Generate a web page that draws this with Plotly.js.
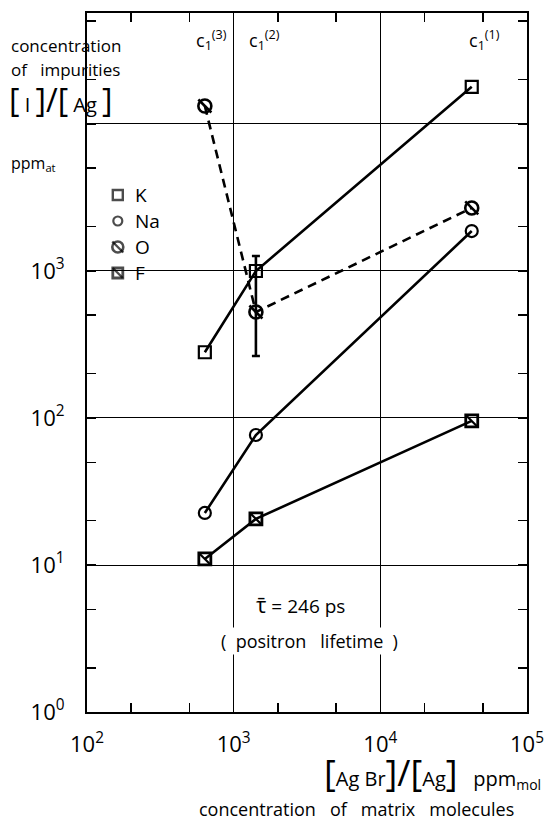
<!DOCTYPE html>
<html>
<head>
<meta charset="utf-8">
<script src="https://cdn.plot.ly/plotly-3.0.1.min.js"></script>
<style>html,body{margin:0;padding:0;background:#fff;}#chart{width:552px;height:829px;}</style>
</head>
<body>
<div id="chart"></div>
<script>
// ---- data ----
const categoryLabels = ['c<sub>1</sub><sup>(3)</sup>', 'c<sub>1</sub><sup>(2)</sup>', 'c<sub>1</sub><sup>(1)</sup>'];
const matrixConc = [636, 1418, 42000];          // [AgBr]/[Ag] ppm_mol
const K  = [280, 1000, 17900];
const Na = [22.6, 76.6, 1870];
const O  = [13250, 526, 2685];
const F  = [11.0, 20.6, 95.5];
const oErrorUpper = 1265;   // error bar at c1(2)
const oErrorLower = 264;
const xTickVals = [100, 1000, 10000, 100000];
const xTickText = ['10<sup>2</sup>', '10<sup>3</sup>', '10<sup>4</sup>', '10<sup>5</sup>'];
const yTickVals = [1, 10, 100, 1000, 10000];
const yTickText = ['10<sup>0</sup>', '10<sup>1</sup>', '10<sup>2</sup>', '10<sup>3</sup>', ''];
const xMinor = [200, 500, 2000, 5000, 20000, 50000];
const yMinor = [2, 5, 20, 50, 200, 500, 2000, 5000, 20000, 50000];
const legendNames = ['K', 'Na', 'O', 'F'];

// ---- layout geometry ----
const W = 552, H = 829;
const M = {l: 87, r: 25, t: 13, b: 117};
const PW = W - M.l - M.r, PH = H - M.t - M.b;
const px = x => (x - M.l) / PW;
const py = y => (H - M.b - y) / PH;
const FONT = 'Open Sans, Liberation Sans, sans-serif';

const lineW = 2.6;
const mk = (symbol, size, extra) => Object.assign({symbol: symbol, size: size, color: 'black', line: {color: 'black', width: 2.2}}, extra || {});

const traces = [
  {x: matrixConc, y: K, mode: 'lines+markers', line: {color: 'black', width: lineW},
   marker: mk('square-open', 12), cliponaxis: false},
  {x: matrixConc, y: Na, mode: 'lines+markers', line: {color: 'black', width: lineW},
   marker: mk('circle-open', 12), cliponaxis: false},
  {x: matrixConc, y: O, mode: 'lines+markers', line: {color: 'black', width: lineW, dash: '9px,6px'},
   marker: mk('circle-open', 13, {line: {color: 'black', width: 2.6}}), cliponaxis: false},
  {x: matrixConc, y: O, mode: 'markers', marker: mk('line-nw-open', 13, {line: {color: 'black', width: 2.6}}), cliponaxis: false},
  {x: matrixConc, y: F, mode: 'lines+markers', line: {color: 'black', width: lineW},
   marker: mk('square-open', 12, {line: {color: 'black', width: 2.8}}), cliponaxis: false},
  {x: matrixConc, y: F, mode: 'markers', marker: mk('line-nw-open', 12, {line: {color: 'black', width: 2.2}}), cliponaxis: false},
  {x: [matrixConc[1]], y: [O[1]], mode: 'markers', marker: {size: 1, opacity: 0},
   error_y: {type: 'data', symmetric: false, array: [oErrorUpper - O[1]], arrayminus: [O[1] - oErrorLower],
             color: 'black', thickness: 2.6, width: 4}},
  // legend symbols (drawn on a hidden overlay axis)
  {x: [0.07, 0.07, 0.07, 0.07], y: [py(195), py(221), py(247), py(273)], xaxis: 'x2', yaxis: 'y2',
   mode: 'markers',
   marker: {symbol: ['square-open', 'circle-open', 'circle-open', 'square-open'], size: [10, 9, 11, 10], color: 'black',
            line: {color: 'black', width: [2.4, 2.2, 2.6, 2.8]}}, cliponaxis: false},
  {x: [0.07, 0.07], y: [py(247), py(273)], xaxis: 'x2', yaxis: 'y2', mode: 'markers',
   marker: {symbol: 'line-nw-open', size: [11, 10], color: 'black', line: {color: 'black', width: 2.4}}, cliponaxis: false}
];

function ann(text, x, y, o) {
  return Object.assign({xref: 'paper', yref: 'paper', x: px(x), y: py(y), text: text, showarrow: false,
    xanchor: 'left', yanchor: 'middle', font: {family: FONT, size: 17, color: 'black'}}, o || {});
}
const br = (s, sz) => '<span style="font-size:' + (sz || 32) + 'px">' + s + '</span>';

const annotations = [
  ann('concentration', 9, 45),
  ann('of&nbsp;&nbsp;&nbsp;impurities', 9, 69),
  ann(br('[') + ' I ' + br(']') + br('/') + br('[') + ' Ag ' + br(']'), 7, 99, {font: {family: FONT, size: 20, color: 'black'}}),
  ann('ppm<sub>at</sub>', 9, 163, {font: {family: FONT, size: 16, color: 'black'}}),
  ann(categoryLabels[0], 211, 40, {xanchor: 'center', bgcolor: 'white', font: {family: FONT, size: 18, color: 'black'}}),
  ann(categoryLabels[1], 264, 40, {xanchor: 'center', bgcolor: 'white', font: {family: FONT, size: 18, color: 'black'}}),
  ann(categoryLabels[2], 484, 40, {xanchor: 'center', font: {family: FONT, size: 18, color: 'black'}}),
  ann('<span style="font-size:22px">\u03C4\u0304</span> = 246 ps', 300, 604, {xanchor: 'center', font: {family: FONT, size: 19, color: 'black'}}),
  ann('(&nbsp;&nbsp;positron&nbsp;&nbsp;&nbsp;lifetime&nbsp;&nbsp;)', 309, 641, {xanchor: 'center', bgcolor: 'white', font: {family: FONT, size: 18, color: 'black'}}),
  ann(br('[', 36) + 'Ag Br' + br(']', 36) + br('/', 36) + br('[', 36) + 'Ag' + br(']', 36) + '&nbsp;&nbsp;&nbsp;ppm<sub>mol</sub>', 322, 773, {font: {family: FONT, size: 20, color: 'black'}}),
  ann('concentration&nbsp;&nbsp;&nbsp;of&nbsp;&nbsp;&nbsp;matrix&nbsp;&nbsp;&nbsp;molecules', 356, 809, {xanchor: 'center', font: {family: FONT, size: 18, color: 'black'}})
].concat(legendNames.map((s, i) => ann(s, 133, 195 + 26 * i, {font: {family: FONT, size: 19, color: 'black'}})));

const axisCommon = {
  type: 'log', showline: true, linecolor: 'black', linewidth: 2, mirror: 'ticks',
  ticks: 'inside', ticklen: 9, tickwidth: 1.5, tickcolor: 'black',
  showgrid: true, gridcolor: 'black', gridwidth: 1, zeroline: false,
  tickmode: 'array', tickfont: {family: FONT, size: 22, color: 'black'}
};

const layout = {
  width: W, height: H, margin: M, paper_bgcolor: 'white', plot_bgcolor: 'white',
  showlegend: false,
  xaxis: Object.assign({}, axisCommon, {range: [2, 5], tickvals: xTickVals, ticktext: xTickText, ticklabelstandoff: 12,
    minor: {tickmode: 'array', tickvals: xMinor, ticks: 'inside', ticklen: 9, tickwidth: 1.5, tickcolor: 'black', showgrid: false}}),
  yaxis: Object.assign({}, axisCommon, {range: [0, 4.755], tickvals: yTickVals, ticktext: yTickText, ticklabelstandoff: 16,
    minor: {tickmode: 'array', tickvals: yMinor, ticks: 'inside', ticklen: 9, tickwidth: 1.5, tickcolor: 'black', showgrid: false}}),
  xaxis2: {overlaying: 'x', range: [0, 1], visible: false, fixedrange: true},
  yaxis2: {overlaying: 'y', range: [0, 1], visible: false, fixedrange: true},
  annotations: annotations
};

Plotly.newPlot('chart', traces, layout, {staticPlot: true});
</script>
</body>
</html>
